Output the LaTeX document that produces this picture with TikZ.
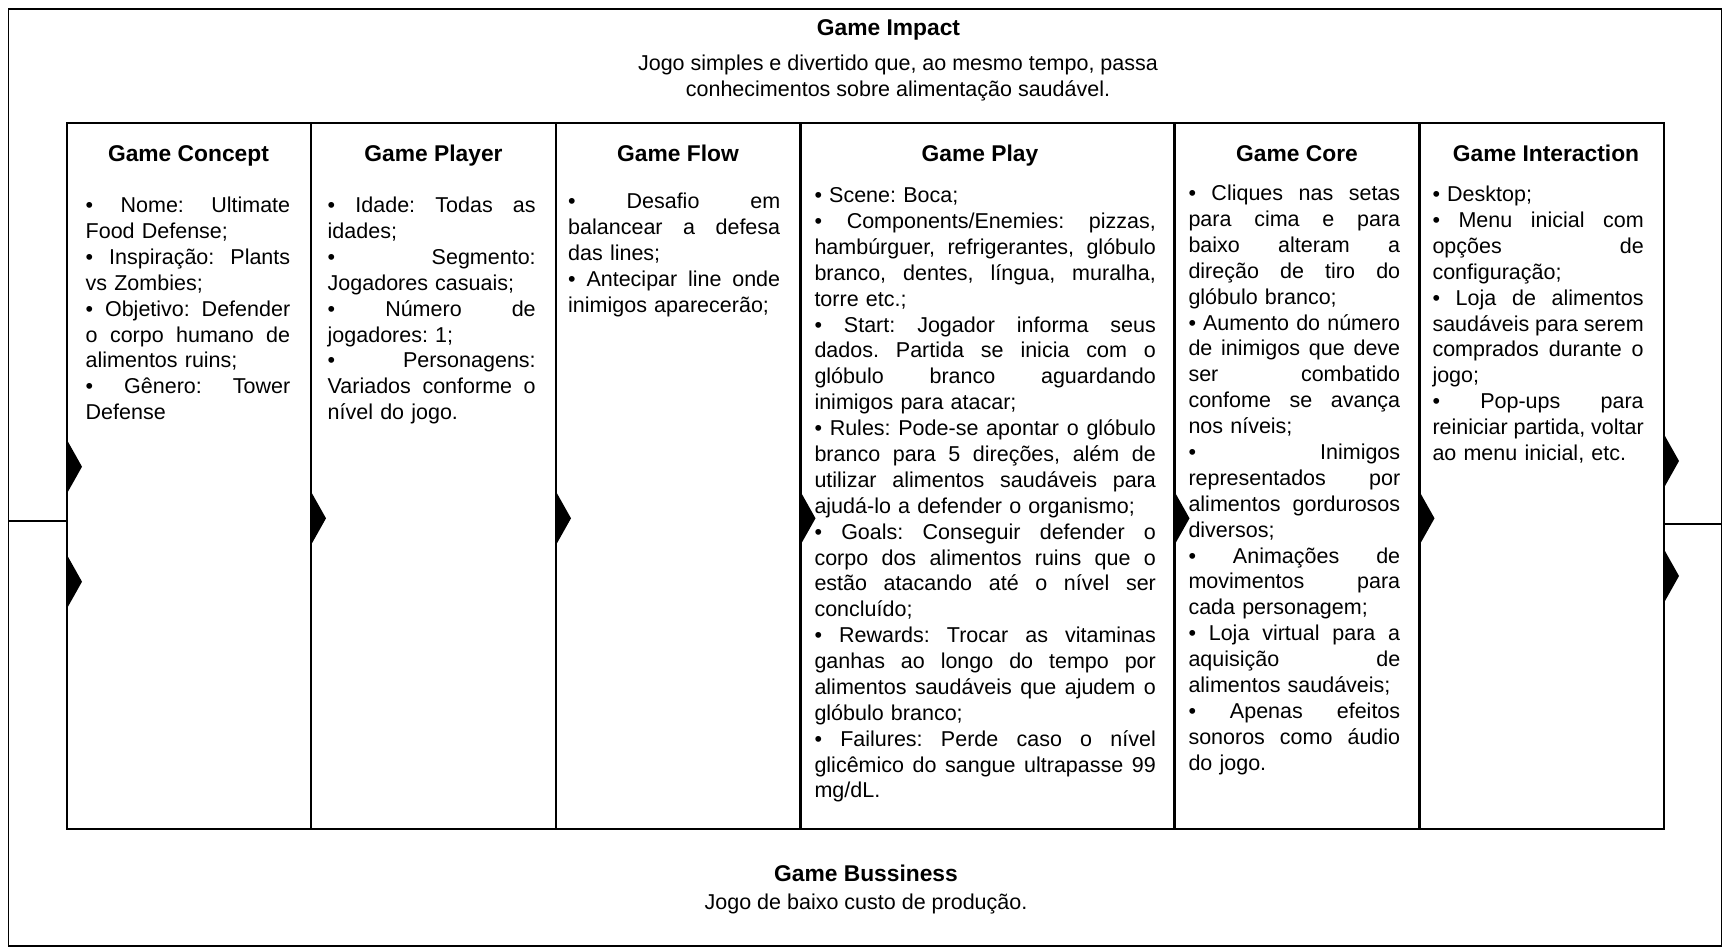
\documentclass[tikz,border=0pt]{standalone}
\usepackage{fontspec}
\setmainfont{Liberation Sans}
\newcommand{\jl}[1]{\leavevmode\hbox to\hsize{\frenchspacing\spaceskip=0.3em plus 10em minus 0.1em\relax #1}}
\newcommand{\ptri}[2]{\fill[black] ({#1},{#2-26.7}) -- ({#1+15},{#2}) -- ({#1},{#2+26.7}) -- cycle;}
\hbadness=10000
\begin{document}
\frenchspacing
\begin{tikzpicture}[x=1pt,y=-1pt,
  outerframe/.style={draw=black,line width=1.8pt},
  gridline/.style={draw=black,line width=2.2pt},
  ttl/.style={font=\fontsize{22.8}{26}\selectfont\bfseries,anchor=base,inner sep=0pt},
  plain/.style={font=\fontsize{21.5}{26.5}\selectfont,anchor=base,inner sep=0pt},
  body/.style={font=\fontsize{21.5}{25.88}\selectfont\frenchspacing,anchor=base west,inner sep=0pt,align=left}]
\useasboundingbox (0,0) rectangle (1735,951);
\fill[white] (0,0) rectangle (1735,951);
% frames
\draw[outerframe] (8.5,9) rectangle (1721.5,946);
\draw[gridline] (67,123) rectangle (1664,829);
\foreach \xx in {311,556,800.5,1174.5,1419.5}{\draw[gridline] (\xx,123) -- (\xx,829);}
\draw[line width=1.6pt] (8.5,520.7) -- (67,520.7);
\draw[line width=1.6pt] (1664,524) -- (1721.5,524);
% pointers
\ptri{67}{466.7}
\ptri{67}{581.7}
\foreach \xx in {311,556,800.5,1174.5,1419.5}{\ptri{\xx}{518.3}}
\ptri{1664}{461}
\ptri{1664}{576}
% top
\node[ttl] (impact) at (888.5,35) {Game Impact};
\node[plain] (impact1) at (898,70.5) {Jogo simples e divertido que, ao mesmo tempo, passa};
\node[plain] (impact2) at (898,96) {conhecimentos sobre alimentação saudável.};
% bottom
\node[ttl] (buss) at (866,881) {Game Bussiness};
\node[plain] (buss1) at (866,909.5) {Jogo de baixo custo de produção.};
% titles
\node[ttl] (t1) at (188.5,161) {Game Concept};
\node[ttl] (t2) at (433.5,161) {Game Player};
\node[ttl] (t3) at (678,161) {Game Flow};
\node[ttl] (t4) at (980,161) {Game Play};
\node[ttl] (t5) at (1297,161) {Game Core};
\node[ttl] (t6) at (1546,161) {Game Interaction};
% bodies
\node[body,text width=204.5pt] (b1) at (85.5,212.7) {%
\jl{• Nome: Ultimate}\\
Food Defense;\\
\jl{• Inspiração: Plants}\\
vs Zombies;\\
\jl{• Objetivo: Defender}\\
\jl{o corpo humano de}\\
alimentos ruins;\\
\jl{• Gênero: Tower}\\
Defense};
\node[body,text width=208pt] (b2) at (327.5,212.7) {%
\jl{• Idade: Todas as}\\
idades;\\
\jl{• Segmento:}\\
Jogadores casuais;\\
\jl{• Número de}\\
jogadores: 1;\\
\jl{• Personagens:}\\
\jl{Variados conforme o}\\
nível do jogo.};
\node[body,text width=212pt] (b3) at (568,208.5) {%
\jl{• Desafio em}\\
\jl{balancear a defesa}\\
das lines;\\
\jl{• Antecipar line onde}\\
inimigos aparecerão;};
\node[body,text width=341.4pt] (b4) at (814.3,202.7) {%
• Scene: Boca;\\
\jl{• Components/Enemies: pizzas,}\\
\jl{hambúrguer, refrigerantes, glóbulo}\\
\jl{branco, dentes, língua, muralha,}\\
torre etc.;\\
\jl{• Start: Jogador informa seus}\\
\jl{dados. Partida se inicia com o}\\
\jl{glóbulo branco aguardando}\\
inimigos para atacar;\\
\jl{• Rules: Pode-se apontar o glóbulo}\\
\jl{branco para 5 direções, além de}\\
\jl{utilizar alimentos saudáveis para}\\
ajudá-lo a defender o organismo;\\
\jl{• Goals: Conseguir defender o}\\
\jl{corpo dos alimentos ruins que o}\\
\jl{estão atacando até o nível ser}\\
concluído;\\
\jl{• Rewards: Trocar as vitaminas}\\
\jl{ganhas ao longo do tempo por}\\
\jl{alimentos saudáveis que ajudem o}\\
glóbulo branco;\\
\jl{• Failures: Perde caso o nível}\\
\jl{glicêmico do sangue ultrapasse 99}\\
mg/dL.};
\node[body,text width=211.7pt] (b5) at (1188.3,200.7) {%
\jl{• Cliques nas setas}\\
\jl{para cima e para}\\
\jl{baixo alteram a}\\
\jl{direção de tiro do}\\
glóbulo branco;\\
\jl{• Aumento do número}\\
\jl{de inimigos que deve}\\
\jl{ser combatido}\\
\jl{confome se avança}\\
nos níveis;\\
\jl{• Inimigos}\\
\jl{representados por}\\
\jl{alimentos gordurosos}\\
diversos;\\
\jl{• Animações de}\\
\jl{movimentos para}\\
cada personagem;\\
\jl{• Loja virtual para a}\\
\jl{aquisição de}\\
alimentos saudáveis;\\
\jl{• Apenas efeitos}\\
\jl{sonoros como áudio}\\
do jogo.};
\node[body,text width=211.2pt] (b6) at (1432.3,201.7) {%
• Desktop;\\
\jl{• Menu inicial com}\\
\jl{opções de}\\
configuração;\\
\jl{• Loja de alimentos}\\
\jl{saudáveis para serem}\\
\jl{comprados durante o}\\
jogo;\\
\jl{• Pop-ups para}\\
\jl{reiniciar partida, voltar}\\
ao menu inicial, etc.};
\end{tikzpicture}
\end{document}
